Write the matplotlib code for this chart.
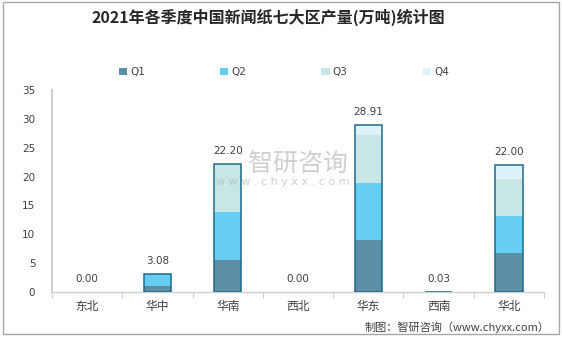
import matplotlib
matplotlib.use("Agg")
import matplotlib.pyplot as plt
from matplotlib.patches import Rectangle
import numpy as np

plt.rcParams['font.family'] = ['Noto Sans CJK SC', 'DejaVu Sans']

categories = ["东北", "华中", "华南", "西北", "华东", "西南", "华北"]
q1 = [0.0, 1.1, 5.6, 0.0, 9.0, 0.01, 6.7]
q2 = [0.0, 1.98, 8.2, 0.0, 9.8, 0.01, 6.5]
q3 = [0.0, 0.0, 8.3, 0.0, 8.4, 0.01, 6.3]
q4 = [0.0, 0.0, 0.1, 0.0, 1.71, 0.0, 2.5]
totals = [0.00, 3.08, 22.20, 0.00, 28.91, 0.03, 22.00]
series_names = ["Q1", "Q2", "Q3", "Q4"]
colors = ["#5b8fa6", "#66cdf3", "#c8e7e4", "#ddf2fa"]
title = "2021年各季度中国新闻纸七大区产量(万吨)统计图"
source = "制图：智研咨询（www.chyxx.com）"

fig = plt.figure(figsize=(5.62, 3.37), dpi=100)
fig.patches.append(Rectangle((0.006, 0.008), 0.988, 0.985, transform=fig.transFigure,
                             fill=False, edgecolor="#a6a6a6", linewidth=1.0))

ax = fig.add_axes([0.0925, 0.1335, 0.8755, 0.5995])
x = np.arange(len(categories))
w = 0.39
bottom = np.zeros(len(categories))
for vals, name, c in zip([q1, q2, q3, q4], series_names, colors):
    ax.bar(x, vals, w, bottom=bottom, color=c, label=name, linewidth=0, zorder=2)
    bottom += np.array(vals)
# outline of total (only for non-zero totals)
tot = np.array(totals)
nz = tot > 0
ax.bar(x[nz], tot[nz], w, fill=False, edgecolor="#1d6a8a", linewidth=1.1, zorder=3)

for xi, t in zip(x, totals):
    ax.annotate(f"{t:.2f}", (xi, t), xytext=(0, 9.5), textcoords="offset points",
                ha="center", va="center", fontsize=7.5, color="#404040",
                family="DejaVu Sans")

ax.set_xlim(-0.5, len(categories) - 0.5)
ax.set_ylim(0, 35)
ax.set_yticks(np.arange(0, 36, 5))
ax.set_yticklabels([str(v) for v in range(0, 36, 5)], fontsize=7.5, color="#404040",
                   family="DejaVu Sans")
ax.set_xticks(x)
ax.set_xticklabels(categories, fontsize=8.5, color="#404040")
ax.set_xticks(np.arange(-0.5, len(categories)), minor=True)
ax.tick_params(axis="x", which="major", length=0, pad=6)
ax.tick_params(axis="x", which="minor", length=4, color="#d0d0d0", width=0.8)
ax.tick_params(axis="y", length=0, pad=12)
for s in ["top", "right"]:
    ax.spines[s].set_visible(False)
ax.spines["left"].set_color("#d0d0d0")
ax.spines["left"].set_linewidth(1.5)
ax.spines["bottom"].set_color("#d0d0d0")
ax.spines["bottom"].set_linewidth(1.0)

leg = fig.legend(loc="center", bbox_to_anchor=(0.505, 0.786), ncol=4, frameon=False,
                 handlelength=0.8, handleheight=0.8, handletextpad=0.3,
                 columnspacing=7.2, prop={"family": "DejaVu Sans", "size": 7.5})
for t in leg.get_texts():
    t.set_color("#404040")

fig.text(0.477, 0.948, title, ha="center", va="center", fontsize=11.5, fontweight="bold",
         color="#262626")
fig.text(0.977, 0.03, source, ha="right", va="center", fontsize=8, color="#404040")

# watermark
fig.text(0.53, 0.515, "智研咨询", ha="center", va="center", fontsize=18,
         color="#b0b0b0", alpha=0.6, zorder=10)
fig.text(0.503, 0.46, "w w w . c h y x x . c o m", ha="center", va="center", fontsize=8,
         color="#b0b0b0", alpha=0.6, zorder=10, family="DejaVu Sans")

fig.savefig("out.png", dpi=100)
